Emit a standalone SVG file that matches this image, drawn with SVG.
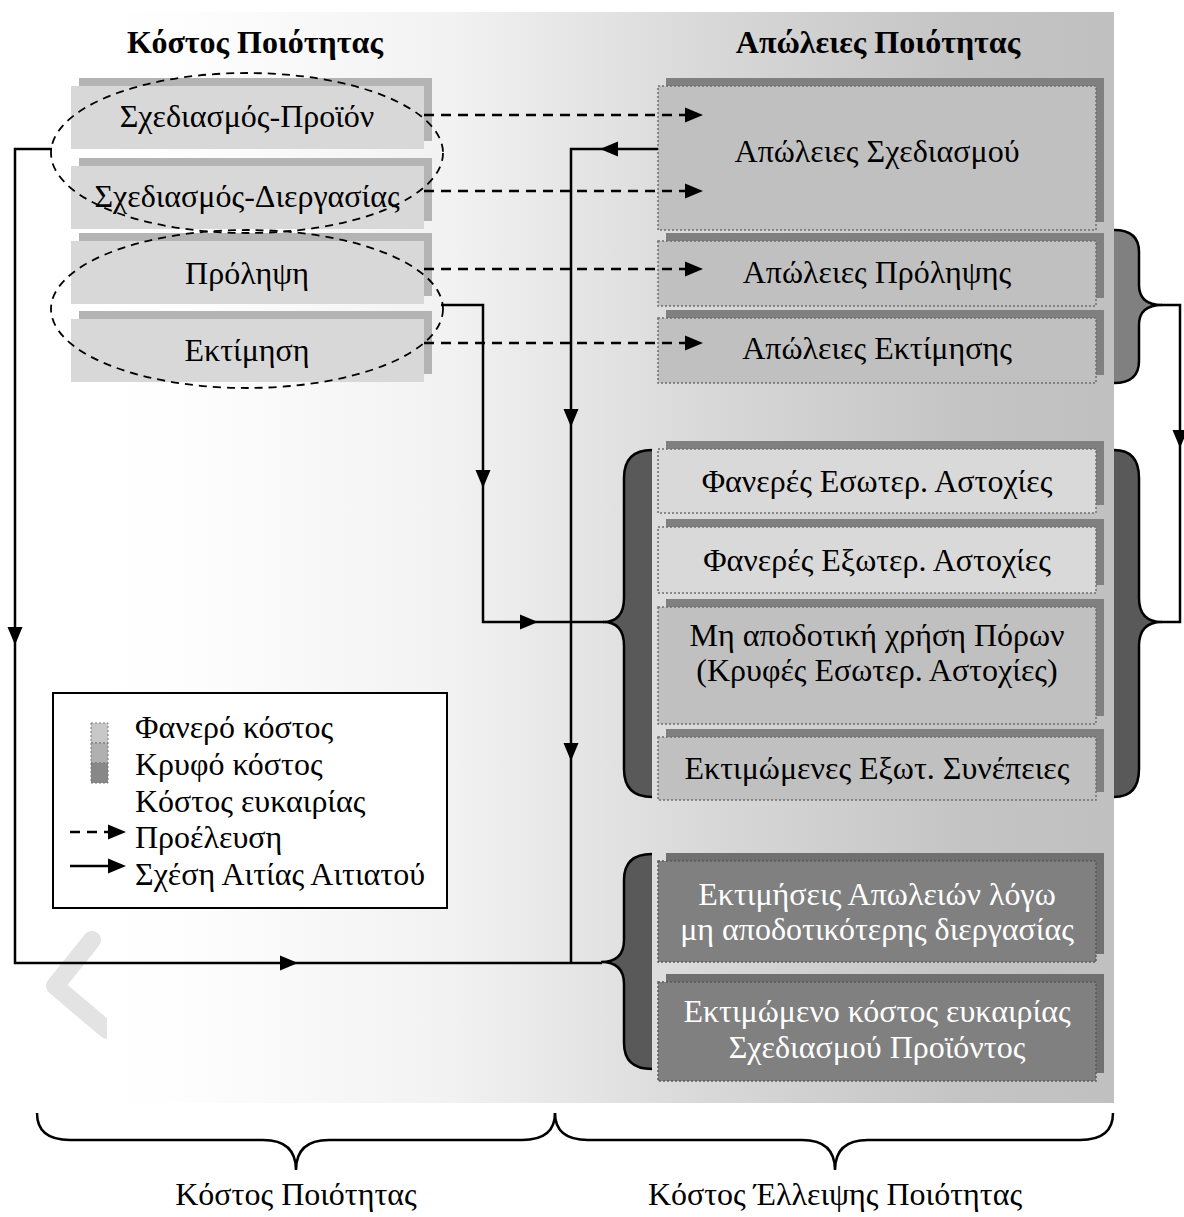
<svg xmlns="http://www.w3.org/2000/svg" xmlns:xlink="http://www.w3.org/1999/xlink" width="1184" height="1217" viewBox="0 0 1184 1217">
  <style>
    text { font-family: "Liberation Serif", "DejaVu Serif", serif; font-size: 32px; fill: #000; text-anchor: middle; }
    .title { font-weight: bold; }
    .inv { fill: #fff; }
    .lg { text-anchor: start; }
    .shL { fill: #b4b4b4; }
    .frL { fill: #d8d8d8; }
    .sh { fill: #808080; }
    .shD { fill: #707070; }
    .light { fill: #d9d9d9; stroke: #6e6e6e; stroke-width: 1.5; stroke-dasharray: 2 2; }
    .mid { fill: #c0c0c0; stroke: #6e6e6e; stroke-width: 1.5; stroke-dasharray: 2 2; }
    .dark { fill: #808080; stroke: #5a5a5a; stroke-width: 1.5; stroke-dasharray: 2 2; }
    .wire { fill: none; stroke: #000; stroke-width: 2.5; }
    .dash { fill: none; stroke: #000; stroke-width: 2.5; stroke-dasharray: 10 7; }
    .oval { fill: none; stroke: #000; stroke-width: 1.8; stroke-dasharray: 8 6; }
    .brace { fill: none; stroke: #000; stroke-width: 2.5; }
  </style>
  <defs>
    <linearGradient id="bg" x1="107" y1="0" x2="1114" y2="0" gradientUnits="userSpaceOnUse">
      <stop offset="0" stop-color="#ffffff"/>
      <stop offset="0.09" stop-color="#fdfdfd"/>
      <stop offset="0.34" stop-color="#f2f2f2"/>
      <stop offset="0.59" stop-color="#d9d9d9"/>
      <stop offset="0.85" stop-color="#c4c4c4"/>
      <stop offset="1" stop-color="#c0c0c0"/>
    </linearGradient>
    <path id="ah" d="M0,0 L-18,-7.5 L-18,7.5 Z" fill="#000"/>
  </defs>

  <!-- faint mark behind the panel -->
  <polyline points="92,940 55,986 107,1030" fill="none" stroke="#e3e3e3" stroke-width="18" stroke-linejoin="round" stroke-linecap="round"/>

  <!-- shaded panel -->
  <rect x="107" y="12" width="1007" height="1091" fill="url(#bg)"/>

  <!-- headings -->
  <text class="title" x="255" y="53">Κόστος Ποιότητας</text>
  <text class="title" x="878" y="53">Απώλειες Ποιότητας</text>

  <!-- quality cost items -->
  <g id="design-product">
    <rect class="shL" x="79" y="78" width="353" height="63"/>
    <rect class="frL" x="71" y="86" width="353" height="63"/>
    <text x="247" y="127">Σχεδιασμός-Προϊόν</text>
  </g>
  <g id="design-process">
    <rect class="shL" x="79" y="158" width="353" height="63"/>
    <rect class="frL" x="71" y="166" width="353" height="63"/>
    <text x="247" y="207">Σχεδιασμός-Διεργασίας</text>
  </g>
  <g id="prevention">
    <rect class="shL" x="79" y="233" width="353" height="63"/>
    <rect class="frL" x="71" y="241" width="353" height="63"/>
    <text x="247" y="284">Πρόληψη</text>
  </g>
  <g id="appraisal">
    <rect class="shL" x="79" y="311" width="353" height="63"/>
    <rect class="frL" x="71" y="319" width="353" height="63"/>
    <text x="247" y="361">Εκτίμηση</text>
  </g>
  <ellipse class="oval" cx="247" cy="153" rx="196" ry="80"/>
  <ellipse class="oval" cx="247" cy="309" rx="196" ry="79"/>

  <!-- quality loss items -->
  <g id="loss-design">
    <rect class="sh" x="666" y="78" width="438" height="144"/>
    <rect class="mid" x="658" y="86" width="438" height="144"/>
    <text x="877" y="162">Απώλειες Σχεδιασμού</text>
  </g>
  <g id="loss-prevention">
    <rect class="sh" x="666" y="233" width="438" height="65"/>
    <rect class="mid" x="658" y="241" width="438" height="65"/>
    <text x="877" y="283">Απώλειες Πρόληψης</text>
  </g>
  <g id="loss-appraisal">
    <rect class="sh" x="666" y="310" width="438" height="65"/>
    <rect class="mid" x="658" y="318" width="438" height="65"/>
    <text x="877" y="359">Απώλειες Εκτίμησης</text>
  </g>
  <g id="visible-internal">
    <rect class="sh" x="666" y="441" width="438" height="64"/>
    <rect class="light" x="658" y="449" width="438" height="64"/>
    <text x="877" y="492">Φανερές Εσωτερ. Αστοχίες</text>
  </g>
  <g id="visible-external">
    <rect class="sh" x="666" y="519" width="438" height="66"/>
    <rect class="light" x="658" y="527" width="438" height="66"/>
    <text x="877" y="571">Φανερές Εξωτερ. Αστοχίες</text>
  </g>
  <g id="hidden-internal">
    <rect class="sh" x="666" y="599" width="438" height="117"/>
    <rect class="mid" x="658" y="607" width="438" height="117"/>
    <text x="877" y="646">Μη αποδοτική χρήση Πόρων</text>
    <text x="877" y="681">(Κρυφές Εσωτερ. Αστοχίες)</text>
  </g>
  <g id="external-consequences">
    <rect class="sh" x="666" y="729" width="438" height="63"/>
    <rect class="mid" x="658" y="737" width="438" height="63"/>
    <text x="877" y="779">Εκτιμώμενες Εξωτ. Συνέπειες</text>
  </g>
  <g id="process-loss">
    <rect class="shD" x="666" y="853" width="438" height="101"/>
    <rect class="dark" x="658" y="861" width="438" height="101"/>
    <text class="inv" x="877" y="905">Εκτιμήσεις Απωλειών λόγω</text>
    <text class="inv" x="877" y="940">μη αποδοτικότερης διεργασίας</text>
  </g>
  <g id="opportunity-cost">
    <rect class="shD" x="666" y="974" width="438" height="99"/>
    <rect class="dark" x="658" y="982" width="438" height="99"/>
    <text class="inv" x="877" y="1022">Εκτιμώμενο κόστος ευκαιρίας</text>
    <text class="inv" x="877" y="1058">Σχεδιασμού Προϊόντος</text>
  </g>

  <!-- grouping braces -->
  <g id="braces">
    <path d="M1114,230 Q1139,230 1139,252 L1139,285 Q1139,305 1162,305 Q1139,305 1139,325 L1139,361 Q1139,383 1114,383 Z" fill="#808080"/>
    <path class="brace" d="M1114,230 Q1139,230 1139,252 L1139,285 Q1139,305 1162,305 Q1139,305 1139,325 L1139,361 Q1139,383 1114,383"/>

    <path d="M652,450 Q624,450 624,478 L624,598 Q624,622 603,622 Q624,622 624,646 L624,769 Q624,797 652,797 Z" fill="#595959"/>
    <path class="brace" d="M652,450 Q624,450 624,478 L624,598 Q624,622 603,622 Q624,622 624,646 L624,769 Q624,797 652,797"/>

    <path d="M1114,450 Q1139,450 1139,478 L1139,598 Q1139,622 1162,622 Q1139,622 1139,646 L1139,769 Q1139,797 1114,797 Z" fill="#595959"/>
    <path class="brace" d="M1114,450 Q1139,450 1139,478 L1139,598 Q1139,622 1162,622 Q1139,622 1139,646 L1139,769 Q1139,797 1114,797"/>

    <path d="M652,854 Q624,854 624,880 L624,940 Q624,962 601,962 Q624,962 624,984 L624,1043 Q624,1069 652,1069 Z" fill="#595959"/>
    <path class="brace" d="M652,854 Q624,854 624,880 L624,940 Q624,962 601,962 Q624,962 624,984 L624,1043 Q624,1069 652,1069"/>
  </g>

  <!-- connectors -->
  <g id="connectors">
    <line class="dash" x1="424" y1="115" x2="690" y2="115"/>
    <line class="dash" x1="424" y1="191" x2="690" y2="191"/>
    <line class="dash" x1="424" y1="269" x2="690" y2="269"/>
    <line class="dash" x1="424" y1="343" x2="690" y2="343"/>
    <use xlink:href="#ah" transform="translate(703,115)"/>
    <use xlink:href="#ah" transform="translate(703,191)"/>
    <use xlink:href="#ah" transform="translate(703,269)"/>
    <use xlink:href="#ah" transform="translate(703,343)"/>

    <polyline class="wire" points="658,149 571,149 571,963"/>
    <use xlink:href="#ah" transform="translate(600,149) rotate(180)"/>
    <use xlink:href="#ah" transform="translate(571,427) rotate(90)"/>
    <use xlink:href="#ah" transform="translate(571,761) rotate(90)"/>

    <polyline class="wire" points="52,149 15,149 15,963 602,963"/>
    <use xlink:href="#ah" transform="translate(15,645) rotate(90)"/>
    <use xlink:href="#ah" transform="translate(298,963)"/>

    <polyline class="wire" points="441,305 483,305 483,622 604,622"/>
    <use xlink:href="#ah" transform="translate(483,488) rotate(90)"/>
    <use xlink:href="#ah" transform="translate(538,622)"/>

    <polyline class="wire" points="1161,305 1180,305 1180,622 1161,622"/>
    <use xlink:href="#ah" transform="translate(1180,448) rotate(90)"/>
  </g>

  <!-- key -->
  <g id="legend">
    <rect x="53" y="693" width="394" height="215" fill="#fff" stroke="#000" stroke-width="2"/>
    <rect x="91" y="723" width="17" height="20" fill="#c8c8c8" stroke="#777" stroke-width="1" stroke-dasharray="2 2"/>
    <rect x="91" y="743" width="17" height="20" fill="#b0b0b0" stroke="#777" stroke-width="1" stroke-dasharray="2 2"/>
    <rect x="91" y="763" width="17" height="20" fill="#888888" stroke="#777" stroke-width="1" stroke-dasharray="2 2"/>
    <text class="lg" x="135" y="738">Φανερό κόστος</text>
    <text class="lg" x="135" y="775">Κρυφό κόστος</text>
    <text class="lg" x="135" y="812">Κόστος ευκαιρίας</text>
    <text class="lg" x="135" y="848">Προέλευση</text>
    <text class="lg" x="135" y="885">Σχέση Αιτίας Αιτιατού</text>
    <line class="dash" x1="70" y1="832" x2="112" y2="832"/>
    <use xlink:href="#ah" transform="translate(126,832)"/>
    <line class="wire" x1="70" y1="866" x2="112" y2="866"/>
    <use xlink:href="#ah" transform="translate(126,866)"/>
  </g>

  <!-- bottom summary braces -->
  <g id="summary">
    <path class="brace" stroke-width="2" d="M37,1113 Q37,1140 70,1140 L263,1140 Q296,1140 296,1170 Q296,1140 329,1140 L522,1140 Q555,1140 555,1113"/>
    <path class="brace" stroke-width="2" d="M555,1113 Q555,1140 588,1140 L802,1140 Q835,1140 835,1170 Q835,1140 868,1140 L1080,1140 Q1113,1140 1113,1113"/>
    <text x="296" y="1205">Κόστος Ποιότητας</text>
    <text x="835" y="1205">Κόστος Έλλειψης Ποιότητας</text>
  </g>
</svg>
